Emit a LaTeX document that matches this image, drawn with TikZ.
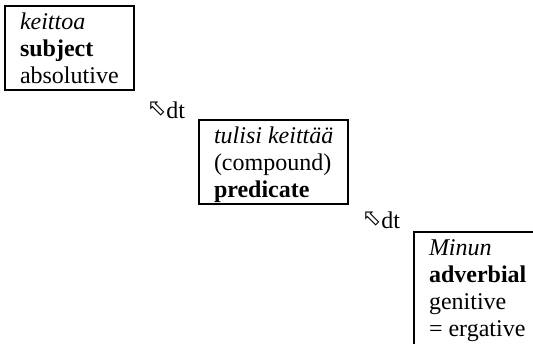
\documentclass[tikz,border=0pt]{standalone}
\usepackage{fontspec}
\setmainfont{Liberation Serif}
\newfontfamily\arrowfont{DejaVu Sans}
\tikzset{
  termbox/.style={draw, line width=1.8pt, anchor=base west, outer sep=0pt,
    inner xsep=15pt, inner ysep=0pt, text height=23pt,
    font=\fontsize{24}{27}\selectfont},
  deplabel/.style={anchor=base west, inner sep=0pt, outer sep=0pt,
    font=\fontsize{24}{27}\selectfont}
}
\newcommand{\lines}[2][l]{\begin{tabular}[t]{@{}#1@{}}#2\end{tabular}}
\newcommand{\dtarrow}{\raisebox{3pt}{\arrowfont\fontsize{23}{23}\selectfont ⬁}}
\begin{document}
\begin{tikzpicture}[x=1pt, y=-1pt]
  \useasboundingbox (0,0) rectangle (533,343);
  \clip (0,0) rectangle (533,343);
  % three constituents, stepping down to the right
  \node[termbox, text depth=61pt] (subj) at (5,29)
    {\lines{\textit{keittoa}\\\textbf{subject}\\absolutive}};
  \node[termbox, text depth=61pt] (pred) at (199,143)
    {\lines{\textit{tulisi keittää}\\(compound)\\\textbf{predicate}}};
  % the last box runs on past the right and bottom edges
  \node[termbox, text depth=96pt] (adv) at (414,255)
    {\lines[p{130pt}]{\textit{Minun}\\\textbf{adverbial}\\genitive\\= ergative}};
  % dependency labels between them
  \node[deplabel] (dt1) at (147,118) {\dtarrow dt};
  \node[deplabel] (dt2) at (362,228) {\dtarrow dt};
\end{tikzpicture}
\end{document}
